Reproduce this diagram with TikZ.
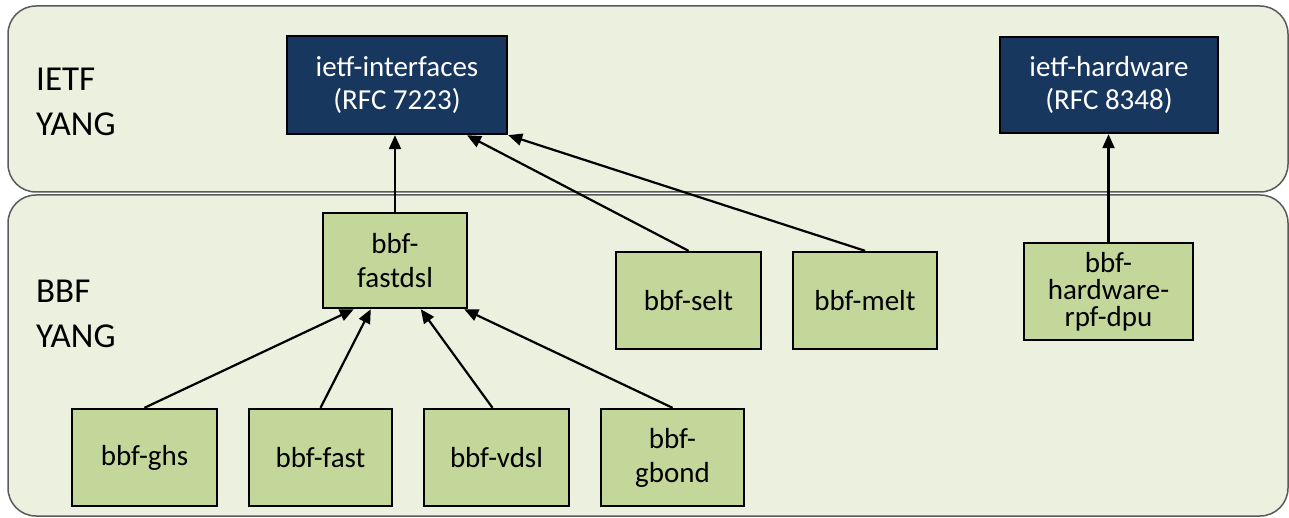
\documentclass[tikz,border=0pt]{standalone}
\usepackage{fontspec}
\setmainfont{Carlito}
\usetikzlibrary{arrows.meta}
\definecolor{panelfill}{HTML}{EBF0DF}
\definecolor{panelline}{HTML}{5A5A5A}
\definecolor{navy}{HTML}{17375E}
\definecolor{leaf}{HTML}{C4D79B}
\begin{document}
\begin{tikzpicture}[x=1pt,y=-1pt,
 panel/.style={draw=panelline, fill=panelfill, line width=1.5pt, rounded corners=28pt},
 ietfbox/.style={draw=black, fill=navy, text=white, line width=2.4pt, align=center, font=\fontsize{29}{33}\selectfont, inner sep=0pt},
 bbfbox/.style={draw=black, fill=leaf, text=black, line width=2.4pt, align=center, font=\fontsize{29}{34}\selectfont, inner sep=0pt, minimum width=145pt, minimum height=97pt},
 grouplabel/.style={font=\fontsize{35}{45}\selectfont, align=left, anchor=west, inner sep=0pt},
 dep/.style={line width=2.2pt, -{Triangle[length=14pt,width=12pt]}}
]
\useasboundingbox (0,0) rectangle (1289,518);
\fill[white] (0,0) rectangle (1289,518);
% panels
\draw[panel] (8,6) rectangle (1288,192);
\draw[panel] (8,195) rectangle (1288,516);
% group labels
\node[grouplabel] (lietf) at (36,102) {IETF\\YANG};
\node[grouplabel] (lbbf) at (36,314) {BBF\\YANG};
% IETF modules
\node[ietfbox, minimum width=220pt, minimum height=98pt] (ii) at (397,85) {ietf-interfaces\\(RFC 7223)};
\node[ietfbox, minimum width=218pt, minimum height=96pt] (ih) at (1109,85) {ietf-hardware\\(RFC 8348)};
% BBF modules
\node[bbfbox, minimum width=144pt, minimum height=95pt] (fd) at (395,260.5) {bbf-\\fastdsl};
\node[bbfbox] (selt) at (688.5,300.5) {bbf-selt};
\node[bbfbox, minimum width=144pt] (melt) at (865,300.5) {bbf-melt};
\node[bbfbox, minimum width=169pt, font=\fontsize{29}{27}\selectfont] (hw) at (1108.5,291.5) {bbf-\\hardware-\\rpf-dpu};
\node[bbfbox] (ghs) at (144.5,457.5) {bbf-ghs};
\node[bbfbox, minimum width=143pt] (fast) at (320.5,457.5) {bbf-fast};
\node[bbfbox] (vdsl) at (496.5,457.5) {bbf-vdsl};
\node[bbfbox, minimum width=143pt] (gbond) at (672.5,457.5) {bbf-\\gbond};
% dependencies
\draw[dep] (fd.north) -- (ii.south -| fd.north);
\draw[dep] (selt.north) -- ([xshift=70pt]ii.south);
\draw[dep] (melt.north) -- (ii.south east);
\draw[dep] (hw.north) -- (ih.south -| hw.north);
\draw[dep] (ghs.north) -- ([xshift=32pt]fd.south west);
\draw[dep] (fast.north) -- ([xshift=49pt]fd.south west);
\draw[dep] ([xshift=-4pt]vdsl.north) -- ([xshift=99pt]fd.south west);
\draw[dep] (gbond.north) -- ([xshift=-4pt]fd.south east);
\end{tikzpicture}
\end{document}
